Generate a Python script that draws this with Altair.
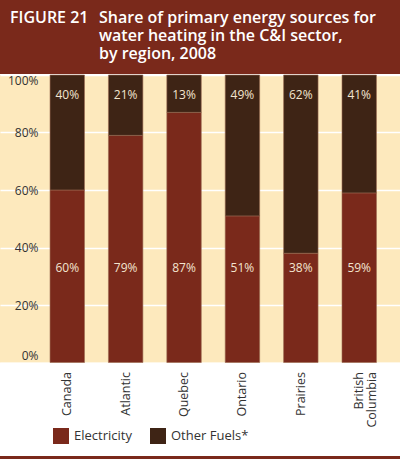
import altair as alt
import pandas as pd

regions = ["Canada", "Atlantic", "Quebec", "Ontario", "Prairies", "British Columbia"]
electricity = [60, 79, 87, 51, 38, 59]
other_fuels = [40, 21, 13, 49, 62, 41]
series = ["Electricity", "Other Fuels*"]
colors = ["#7a291b", "#3e2415"]
y_ticks = [0, 20, 40, 60, 80, 100]
title_lines = ["Share of primary energy sources for", "water heating in the C&I sector,", "by region, 2008"]

rows = []
for r, e, o in zip(regions, electricity, other_fuels):
    rows.append({"region": r, "series": series[0], "value": e, "order": 0, "lab": 33})
    rows.append({"region": r, "series": series[1], "value": o, "order": 1, "lab": 93})
df = pd.DataFrame(rows)

FONT = "Open Sans"
RED = "#7a291b"

xscale = alt.Scale(domain=regions, paddingInner=0.41, paddingOuter=0.63, align=0.68)
yscale = alt.Scale(domain=[0, 100])

base = alt.Chart(df)

bars = base.mark_bar(stroke="#9a6a52", strokeWidth=0.6).encode(
    x=alt.X("region:N", scale=xscale, sort=regions, axis=alt.Axis(
        title=None, labelAngle=-90, labelPadding=9, domain=False, ticks=False,
        labelFontSize=12.5, labelColor="#333333", labelFont=FONT,
        labelExpr="datum.label == 'British Columbia' ? ['British', 'Columbia'] : datum.label",
        labelLineHeight=13)),
    y=alt.Y("value:Q", stack="zero", scale=yscale, axis=alt.Axis(
        title=None, values=y_ticks, labelExpr="datum.value + '%'", grid=True,
        gridColor="white", gridWidth=1.5, domain=False, ticks=False, tickSize=0,
        labelPadding=-38, labelAlign="right", labelFlush=True, labelFlushOffset=0,
        labelFontSize=12, labelColor="#333333", labelFont=FONT)),
    color=alt.Color("series:N", scale=alt.Scale(domain=series, range=colors), legend=alt.Legend(
        title=None, orient="none", legendX=53, legendY=353, direction="horizontal",
        symbolType="square", symbolSize=256, symbolStrokeWidth=0, symbolOpacity=1,
        labelFontSize=13, labelColor="#333333", labelFont=FONT, labelOffset=5,
        columnPadding=18)),
    order=alt.Order("order:Q"),
)

labels = base.mark_text(color="#f3e4cf", fontSize=12, font=FONT).transform_calculate(
    txt="datum.value + '%'"
).encode(
    x=alt.X("region:N", scale=xscale, sort=regions),
    y=alt.Y("lab:Q", scale=yscale),
    text="txt:N",
)

hdr = alt.Chart(alt.Data(values=[{}]))
title_box = hdr.mark_rect(color=RED).encode(
    x=alt.value(0), x2=alt.value(400), y=alt.value(-75), y2=alt.value(-1))
tstyle = dict(color="white", fontSize=16, fontWeight=600, font=FONT,
              align="left", baseline="alphabetic")
fig = hdr.mark_text(**tstyle).encode(
    x=alt.value(10), y=alt.value(-52), text=alt.value("FIGURE 21"))
ttl_layers = [
    hdr.mark_text(**tstyle).encode(x=alt.value(99), y=alt.value(-52 + 18 * i), text=alt.value(line))
    for i, line in enumerate(title_lines)
]
bottom = hdr.mark_rule(color=RED, strokeWidth=3).encode(
    x=alt.value(0), x2=alt.value(400), y=alt.value(382.5))

chart = alt.layer(title_box, fig, *ttl_layers, bars, labels, bottom).properties(
    width=400, height=287.5,
    autosize=alt.AutoSizeParams(type="none"),
    padding={"left": 0, "top": 75, "right": 0, "bottom": 96.5},
    background="white",
).configure_view(fill="#fde9bd", stroke=None)

chart.save("out.html", embed_options={"renderer": "svg", "actions": False})
